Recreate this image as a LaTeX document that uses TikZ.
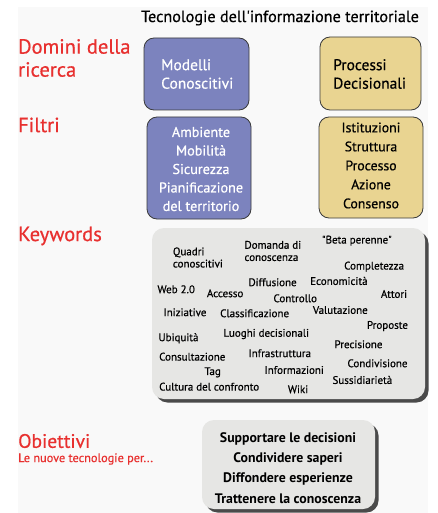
\documentclass[tikz,border=0pt]{standalone}
\usepackage{fontspec}
\setmainfont{PT Sans}
\newfontfamily\medfont{PT Sans}[FakeBold=0.6]
\usetikzlibrary{shadows}
\definecolor{panel}{HTML}{F9F9F9}
\definecolor{redlab}{HTML}{E8302F}
\definecolor{bluebox}{HTML}{7C83BE}
\definecolor{yellowbox}{HTML}{E9D491}
\definecolor{graybox}{HTML}{E6E6E4}
\definecolor{shadowc}{HTML}{4A4A4A}
\definecolor{edge}{HTML}{3A3A3A}
\tikzset{
  redtitle/.style={anchor=west, inner sep=0pt, text=redlab, font=\medfont\fontsize{20.5}{24}\selectfont, align=left},
  domainbox/.style={draw=edge, line width=0.8pt, rounded corners=10pt, inner sep=0pt},
  bluefill/.style={domainbox, fill=bluebox},
  yellowfill/.style={domainbox, fill=yellowbox},
  boxtext/.style={inner sep=0pt, font=\medfont\fontsize{15}{18.7}\selectfont},
  kw/.style={anchor=west, inner sep=0pt, font=\medfont\fontsize{11}{12.2}\selectfont, align=left},
  grayshadow/.style={fill=graybox, rounded corners=12pt, drop shadow={shadow xshift=3.5pt, shadow yshift=-3.5pt, fill=shadowc, opacity=1}},
  objtext/.style={inner sep=0pt, font=\fontsize{13.8}{20.3}\selectfont\bfseries, align=center}
}
\begin{document}
\begin{tikzpicture}[x=1pt,y=-1pt]
\useasboundingbox (0,0) rectangle (437,513);
\fill[white] (0,0) rectangle (437,513);
\fill[panel] (18,7) rectangle (428,513);

\node[inner sep=0pt, anchor=center, font=\medfont\fontsize{16.2}{19}\selectfont] (title) at (280,18) {Tecnologie dell'informazione territoriale};

\node[redtitle] (domini) at (18,58) {Domini della\\[-1pt]ricerca};
\node[redtitle] (filtri) at (18,125) {Filtri};
\node[redtitle] (keywords) at (18,236) {Keywords};
\node[redtitle, font=\medfont\fontsize{19.5}{23}\selectfont] (obiettivi) at (18,441) {Obiettivi};
\node[anchor=west, inner sep=0pt, text=redlab, font=\medfont\fontsize{12.3}{14}\selectfont] (lenuove) at (18,459) {Le nuove tecnologie per...};

% domain boxes
\path[bluefill] (144,38) rectangle (249,110);
\node[boxtext, text=white, anchor=west, align=left, font=\medfont\fontsize{15.5}{18.5}\selectfont] (modelli) at (161,74) {Modelli\\Conoscitivi};
\path[yellowfill] (320,37) rectangle (421,110);
\node[boxtext, anchor=west, align=left, font=\medfont\fontsize{15.5}{18.5}\selectfont] (processi) at (333,74) {Processi\\Decisionali};

% filter boxes
\path[bluefill] (147,117) rectangle (251,219);
\node[boxtext, text=white, align=center, font=\medfont\fontsize{14.2}{18.5}\selectfont] (filtriblu) at (201,169) {Ambiente\\Mobilità\\Sicurezza\\Pianificazione\\del territorio};
\path[yellowfill] (319,117) rectangle (423,218);
\node[boxtext, align=center, font=\medfont\fontsize{13.8}{19}\selectfont] (filtrigialli) at (371,165.5) {Istituzioni\\Struttura\\Processo\\Azione\\Consenso};

% keywords box
\path[grayshadow] (152,228) rectangle (425,399);
\node[kw] (k1) at (172.7,257.5) {Quadri\\conoscitivi};
\node[kw] (k2) at (244.3,251) {Domanda di\\conoscenza};
\node[kw] (k3) at (321.7,240.7) {"Beta perenne"};
\node[kw] (k4) at (344,266.7) {Completezza};
\node[kw] (k5) at (157.3,289.3) {Web 2.0};
\node[kw] (k6) at (206.7,293.3) {Accesso};
\node[kw] (k7) at (248.3,282.3) {Diffusione};
\node[kw] (k8) at (310,281) {Economicità};
\node[kw] (k9) at (380.7,294) {Attori};
\node[kw] (k10) at (273.3,298.3) {Controllo};
\node[kw] (k11) at (163.3,312.3) {Iniziative};
\node[kw] (k12) at (220,313.3) {Classificazione};
\node[kw] (k13) at (312.7,310) {Valutazione};
\node[kw] (k14) at (366.7,326) {Proposte};
\node[kw] (k15) at (158.3,338.3) {Ubiquità};
\node[kw] (k16) at (223.3,334) {Luoghi decisionali};
\node[kw] (k17) at (334.3,344.3) {Precisione};
\node[kw] (k18) at (159,356.7) {Consultazione};
\node[kw] (k19) at (248.3,353.3) {Infrastruttura};
\node[kw] (k20) at (347.3,363.3) {Condivisione};
\node[kw] (k21) at (204.3,372.3) {Tag};
\node[kw] (k22) at (264.3,370) {Informazioni};
\node[kw] (k23) at (332.3,380) {Sussidiarietà};
\node[kw] (k24) at (159,386.7) {Cultura del confronto};
\node[kw] (k25) at (287.7,389.3) {Wiki};

% objectives box
\path[grayshadow] (202,420) rectangle (375,509);
\node[objtext] (obj) at (288,468) {Supportare le decisioni\\Condividere saperi\\Diffondere esperienze\\Trattenere la conoscenza};
\end{tikzpicture}
\end{document}
